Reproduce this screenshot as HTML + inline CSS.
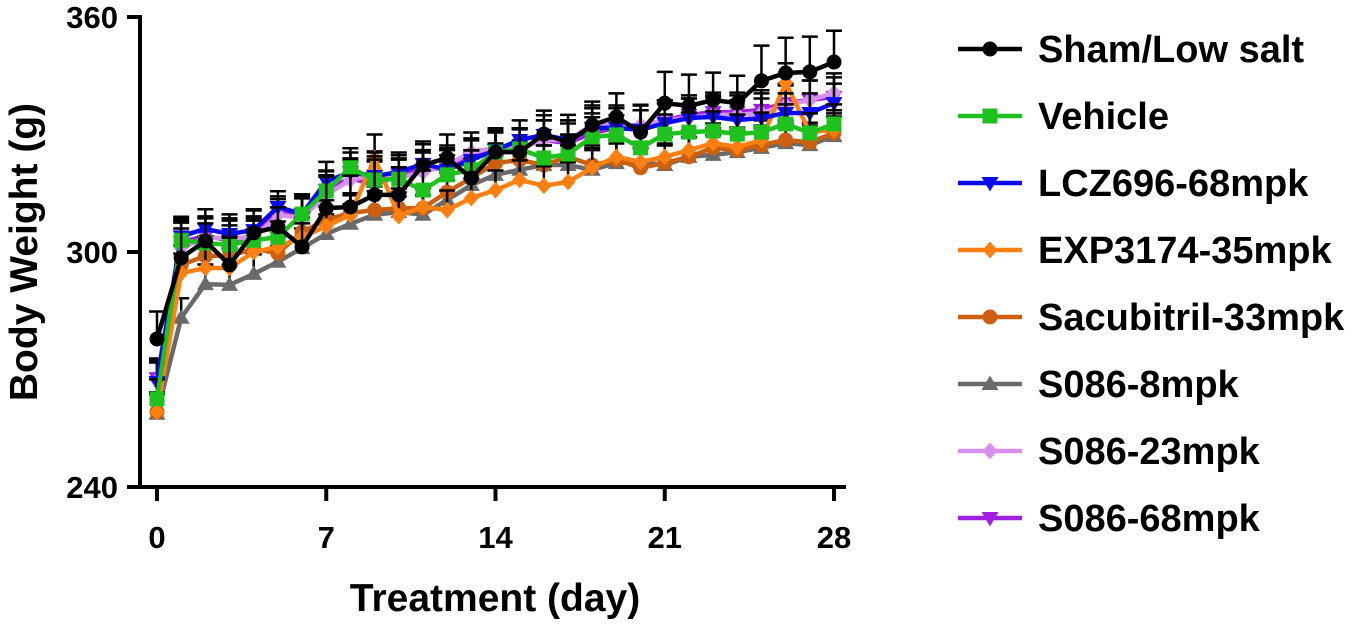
<!DOCTYPE html>
<html><head><meta charset="utf-8"><style>
body{margin:0;background:#fff}
svg text{font-family:"Liberation Sans",Arial,sans-serif;font-weight:bold}
</style></head><body>
<svg id="chart" width="1355" height="620" viewBox="0 0 1355 620" xmlns="http://www.w3.org/2000/svg">
<g id="plot"></g>
<g id="axes"></g>
<g id="legend"></g>
</svg>
<script>
const days=[...Array(29).keys()];
const seriesNames=["Sham/Low salt","Vehicle","LCZ696-68mpk","EXP3174-35mpk","Sacubitril-33mpk","S086-8mpk","S086-23mpk","S086-68mpk"];
const seriesColors=["#000000","#1ec11e","#0a0af0","#ff8010","#cc6010","#6a6a6a","#d890f0","#a020e0"];
const seriesMarkers=["circle","square","tridown","diamond","circle","triup","diamond","tridown"];
const shamVals=[277.8,298.5,302.8,296.7,304.9,306.4,301.3,311.2,311.5,314.6,314.6,322.2,324,318.9,325.5,325.5,330.1,328,332.4,334.5,330.6,338,337.3,338.8,338,343.7,345.7,346,348.5];
const vehicleVals=[262.5,303,302.3,301.8,303,303.8,309.7,315.6,321.5,318.4,318.6,315.8,319.7,321,325.5,326.3,324,325,329.4,329.9,326.6,330.1,330.6,330.9,330.1,330.6,332.7,330.4,332.7];
const lczVals=[266.8,304,305.9,304.6,305.6,311.5,309.7,318,320.4,319.4,320.4,322.5,321,323.5,326,328.6,329.9,328.6,331.7,331.7,331.2,332.9,334.2,334.5,333.7,334.2,335.5,335.5,338];
const expVals=[259.2,294.6,295.9,295.9,300,301.3,303.8,306.6,309.5,324,309.2,311.5,310.7,313.8,315.8,318.4,316.9,317.9,321.5,324.3,323,324.3,326,327.8,326.8,328.6,343.2,330.6,331.2];
const sacVals=[259.2,296.7,299,299,300.8,299.7,305.1,308.2,310,310.7,311.2,311.2,315.3,318.9,322.7,323.5,322.2,324.3,322.2,323.5,321.5,322.7,324.3,326.6,326,327.3,328.6,328,330.4];
const s8Vals=[258.7,283.2,291.8,291.6,294.4,297.5,301,304.6,307.2,309.5,310.2,309.5,313.3,317.1,319.7,321,322.2,322.2,321,322.7,323,322.2,324.3,324.8,325.5,326.6,327.8,327.3,329.6];
const s23Vals=[267.3,301,303.6,303.6,303.6,309.5,308.7,314.6,318.4,319.7,318.9,320.4,322.2,325.5,326.6,326.6,328.6,328.6,332.4,332.4,332.4,333.7,334.2,335,335,335.5,337.5,338.8,340.6];
const s68Vals=[267.8,302.5,304.1,303,304.1,310.2,309.2,315.8,318.9,317.1,319.7,321,321.5,324,326,326.6,328.6,327.8,330.4,331.7,331.2,333.7,335,335.7,335.7,336.3,338,338.8,339.6];
const shamErr=[7,10,6,7,6,5,6,8,8,9,7,6,6,7,6,6,6,7,6,6,7,8,8,7,7,9,9,9,8];
const otherErr=[5,5,5,5,5,4,5,5,5,6,5,5,5,5,5,5,5,5,5,5,5,5,5,5,5,5,5,5,5];
const allVals=[shamVals,vehicleVals,lczVals,expVals,sacVals,s8Vals,s23Vals,s68Vals];
const allErr=[shamErr,otherErr,otherErr,otherErr,otherErr,otherErr,otherErr,otherErr];
const xTicks=[0,7,14,21,28];
const yTicks=[240,300,360];

const NS="http://www.w3.org/2000/svg";
const X=d=>157+d*(834-157)/28;
const Y=v=>487-(v-240)*(487-17)/120;
function mk(tag,attrs,parent){const e=document.createElementNS(NS,tag);for(const k in attrs)e.setAttribute(k,attrs[k]);parent.appendChild(e);return e;}
function marker(type,x,y,c,parent){
  let e;
  if(type==="circle")e=mk("circle",{cx:x,cy:y,r:7.5,fill:c},parent);
  else if(type==="square")e=mk("rect",{x:x-7.5,y:y-7.5,width:15,height:15,fill:c},parent);
  else if(type==="tridown")e=mk("polygon",{points:`${x-8.5},${y-6} ${x+8.5},${y-6} ${x},${y+8.5}`,fill:c},parent);
  else if(type==="triup")e=mk("polygon",{points:`${x-8.5},${y+6} ${x+8.5},${y+6} ${x},${y-8.5}`,fill:c},parent);
  else e=mk("polygon",{points:`${x},${y-8.5} ${x+7.5},${y} ${x},${y+8.5} ${x-7.5},${y}`,fill:c},parent);
  return e;
}
const plot=document.getElementById("plot");
for(let s=allVals.length-1;s>=0;s--){
  const g=mk("g",{},plot);
  
  
  const vals=allVals[s],err=allErr[s],c=seriesColors[s];
  vals.forEach((v,i)=>{
    const x=X(days[i]),y=Y(v),yt=Y(v+err[i]);
    const eb=mk("path",{d:`M${x},${y}V${yt}M${x-8},${yt}H${x+8}`,stroke:"#000","stroke-width":2.5,fill:"none"},g);
    
    
  });
  const ln=mk("polyline",{points:vals.map((v,i)=>X(days[i])+","+Y(v)).join(" "),fill:"none",stroke:c,"stroke-width":4.5,"stroke-linejoin":"round"},g);
  
  
  vals.forEach((v,i)=>{
    const m=marker(seriesMarkers[s],X(days[i]),Y(v),c,g);
    
    
  });
}
const axes=document.getElementById("axes");
mk("path",{d:"M140,15V487H846",stroke:"#000","stroke-width":4,fill:"none"},axes);
yTicks.forEach(t=>{
  mk("line",{x1:127,x2:140,y1:Y(t),y2:Y(t),stroke:"#000","stroke-width":4},axes);
  const tx=mk("text",{x:118,y:Y(t)+11,"text-anchor":"end","font-size":31},axes);tx.textContent=t;
  
  
});
xTicks.forEach(t=>{
  mk("line",{x1:X(t),x2:X(t),y1:487,y2:501,stroke:"#000","stroke-width":4},axes);
  const tx=mk("text",{x:X(t),y:548,"text-anchor":"middle","font-size":31},axes);tx.textContent=t;
  
  
});
const xl=mk("text",{x:495,y:611,"text-anchor":"middle","font-size":39},axes);xl.textContent="Treatment (day)";


const yl=mk("text",{x:0,y:0,"text-anchor":"middle","font-size":39,transform:"translate(37,252) rotate(-90)"},axes);yl.textContent="Body Weight (g)";


const leg=document.getElementById("legend");
seriesNames.forEach((n,i)=>{
  const y=49+i*67;
  const g=mk("g",{},leg);
  
  
  mk("line",{x1:958,x2:1022,y1:y,y2:y,stroke:seriesColors[i],"stroke-width":4.5},g);
  marker(seriesMarkers[i],990,y,seriesColors[i],g);
  const t=mk("text",{x:1038,y:y+13,"font-size":38},g);t.textContent=n;
});
</script>
</body></html>
